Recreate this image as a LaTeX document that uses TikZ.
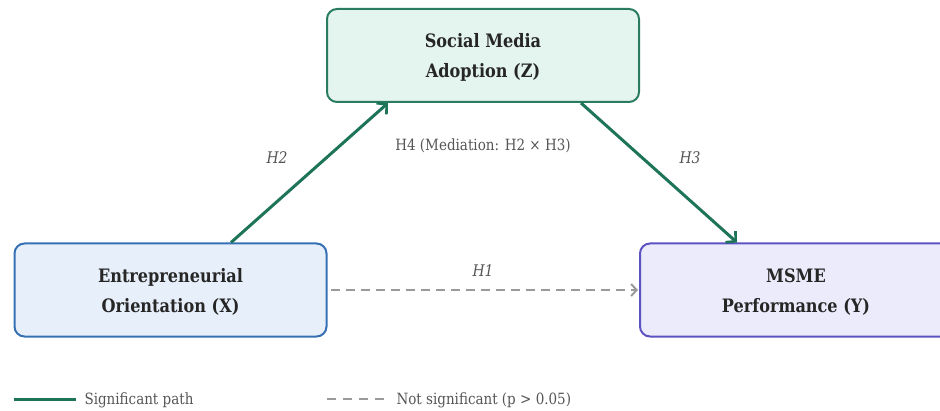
\documentclass[tikz,border=0pt]{standalone}
\usepackage{fontspec}
\setmainfont{DejaVu Serif}[FakeStretch=0.87]
\usetikzlibrary{arrows.meta}
\definecolor{sigGreen}{HTML}{1E7458}
\definecolor{zFill}{HTML}{E4F4EE}
\definecolor{zLine}{HTML}{2A7C60}
\definecolor{xFill}{HTML}{E7EFFA}
\definecolor{xLine}{HTML}{3570B4}
\definecolor{yFill}{HTML}{ECEBFB}
\definecolor{yLine}{HTML}{5D52C2}
\definecolor{nsGray}{HTML}{9A9A9A}
\definecolor{txtDark}{HTML}{262626}
\definecolor{txtMid}{HTML}{555555}
\tikzset{
  construct/.style={draw, line width=2pt, rounded corners=10pt, minimum width=312pt,
    minimum height=93pt, align=center, text=txtDark,
    font=\fontsize{18.5}{30}\selectfont\bfseries},
  boxtext/.style={text=txtDark, align=center,
    font=\fontsize{18.5}{30}\selectfont\bfseries},
  sigpath/.style={draw=sigGreen, line width=3pt,
    -{Straight Barb[length=7pt,width=15pt,line width=2.6pt]}},
  nspath/.style={draw=nsGray, line width=2pt, dash pattern=on 9pt off 6pt,
    -{Straight Barb[length=5.5pt,width=12pt,line width=2pt]}},
  hlabel/.style={text=txtMid, font=\fontsize{16}{18}\selectfont\itshape},
  notetext/.style={text=txtMid, font=\fontsize{15.5}{18}\selectfont},
}
\begin{document}
\begin{tikzpicture}[x=1pt,y=1pt]
\useasboundingbox (0,0) rectangle (940,410);
\clip (0,0) rectangle (940,410);

% constructs (frames, with their two-line captions set slightly below centre)
\node[construct, fill=zFill, draw=zLine] (Z) at (483,354.5) {};
\node[construct, fill=xFill, draw=xLine] (X) at (170.5,120) {};
\node[construct, fill=yFill, draw=yLine] (Y) at (796,120) {};
\node[boxtext] (zt) at ([yshift=-2pt]Z.center) {Social Media\\Adoption (Z)};
\node[boxtext] (xt) at ([yshift=-2pt]X.center) {Entrepreneurial\\Orientation (X)};
\node[boxtext] (yt) at ([yshift=-2pt]Y.center) {MSME\\Performance (Y)};

% paths
\draw[sigpath] ([xshift=60.5pt]X.north) -- ([xshift=-95pt]Z.south);
\draw[sigpath] ([xshift=98pt]Z.south) -- ([xshift=-59pt]Y.north);
\draw[nspath] ([xshift=3pt]X.east) -- ([xshift=-1pt]Y.west);

% path labels
\node[hlabel] (h2) at (277,252) {H2};
\node[hlabel] (h3) at (690,252) {H3};
\node[hlabel] (h1) at (483,139) {H1};
\node[notetext] (h4) at (483,264) {H4 (Mediation: H2 × H3)};

% legend
\coordinate (la) at (14,11);
\coordinate (lb) at (76,11);
\draw[draw=sigGreen, line width=3pt] (la) -- (lb);
\node[notetext, anchor=west] (lsig) at (81,10) {Significant path};
\coordinate (lc) at (327,11);
\coordinate (ld) at (384,11);
\draw[draw=nsGray, line width=2pt, dash pattern=on 9pt off 7pt] (lc) -- (ld);
\node[notetext, anchor=west] (lns) at (393,10) {Not significant (p > 0.05)};
\end{tikzpicture}
\end{document}
